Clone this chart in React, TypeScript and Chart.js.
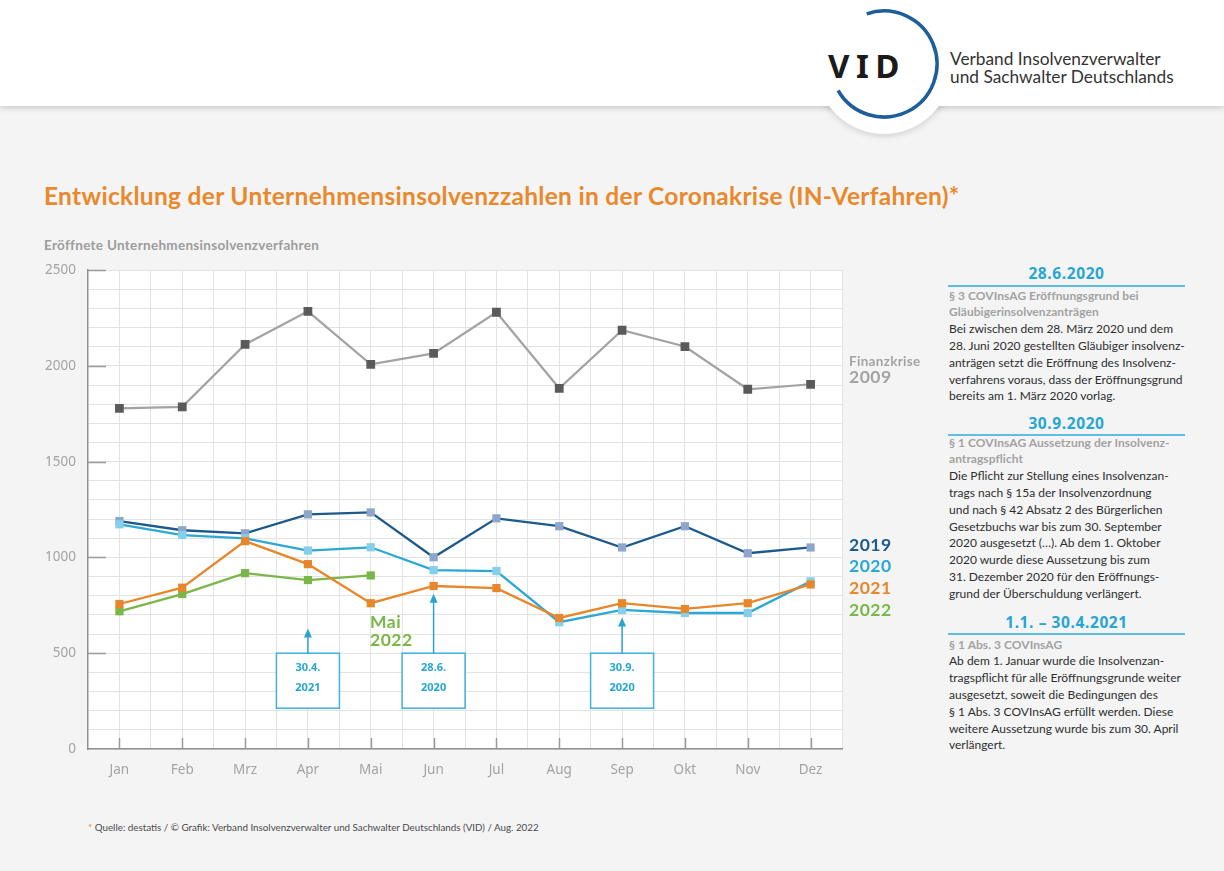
import React, { useEffect, useRef } from "react";
import { Chart, registerables } from "chart.js";
Chart.register(...registerables);

const months = ["Jan", "Feb", "Mrz", "Apr", "Mai", "Jun", "Jul", "Aug", "Sep", "Okt", "Nov", "Dez"];
const values2009 = [1778, 1786, 2112, 2285, 2008, 2065, 2280, 1883, 2186, 2101, 1878, 1904];
const values2019 = [1190, 1142, 1126, 1225, 1235, 1001, 1204, 1163, 1052, 1163, 1022, 1052];
const values2020 = [1173, 1117, 1100, 1036, 1053, 934, 929, 662, 726, 710, 710, 875];
const values2021 = [757, 842, 1085, 965, 761, 851, 840, 684, 761, 731, 761, 859];
const values2022 = [719, 809, 918, 882, 906];
const yMajorTicks = [0, 500, 1000, 1500, 2000, 2500];
const annotations = [
  { month: "Apr", lines: ["30.4.", "2021"], tip: 629 },
  { month: "Jun", lines: ["28.6.", "2020"], tip: 811 },
  { month: "Sep", lines: ["30.9.", "2020"], tip: 686 },
];
const boxTopValue = 500;
const boxBottomValue = 213;

const SANS = "'Noto Sans', sans-serif";
const LATO = "Lato, 'Noto Sans', sans-serif";
const CYAN = "#27a6d3";

const bgPlugin = {
  id: "plotBg",
  beforeDraw(chart: any) {
    const { ctx, chartArea } = chart;
    ctx.save();
    ctx.fillStyle = "#ffffff";
    ctx.fillRect(chartArea.left, chartArea.top, chartArea.right - chartArea.left, chartArea.bottom - chartArea.top);
    ctx.restore();
  },
};

const decoPlugin = {
  id: "deco",
  beforeDatasetsDraw(chart: any) {
    const { ctx, chartArea } = chart;
    const x = chart.scales.x;
    const y = chart.scales.y;
    ctx.save();
    ctx.strokeStyle = "#9a9a9a";
    ctx.lineWidth = 1.5;
    ctx.beginPath();
    yMajorTicks.forEach((v) => {
      if (v === 0) return;
      const py = Math.round(y.getPixelForValue(v)) + 0.5;
      ctx.moveTo(chartArea.left, py);
      ctx.lineTo(chartArea.left + 18, py);
    });
    months.forEach((_, i) => {
      const px = Math.round(x.getPixelForValue(i)) + 0.5;
      ctx.moveTo(px, chartArea.bottom);
      ctx.lineTo(px, chartArea.bottom - 11);
    });
    ctx.stroke();
    ctx.restore();
  },
  afterDatasetsDraw(chart: any) {
    const { ctx } = chart;
    const x = chart.scales.x;
    const y = chart.scales.y;
    ctx.save();
    annotations.forEach((a) => {
      const cx = x.getPixelForValue(months.indexOf(a.month));
      const top = y.getPixelForValue(boxTopValue);
      const bottom = y.getPixelForValue(boxBottomValue);
      const w = 63;
      ctx.fillStyle = "#ffffff";
      ctx.fillRect(cx - w / 2, top, w, bottom - top);
      ctx.strokeStyle = "#3cb2dc";
      ctx.lineWidth = 1.5;
      ctx.strokeRect(cx - w / 2, top, w, bottom - top);
      const tipY = y.getPixelForValue(a.tip);
      ctx.strokeStyle = "#2aa3d0";
      ctx.lineWidth = 1.5;
      ctx.beginPath();
      ctx.moveTo(cx, top);
      ctx.lineTo(cx, tipY + 6);
      ctx.stroke();
      ctx.fillStyle = "#2aa3d0";
      ctx.beginPath();
      ctx.moveTo(cx, tipY);
      ctx.lineTo(cx - 4, tipY + 9);
      ctx.lineTo(cx + 4, tipY + 9);
      ctx.closePath();
      ctx.fill();
      ctx.fillStyle = CYAN;
      ctx.font = "bold 11px " + SANS;
      ctx.textAlign = "center";
      ctx.textBaseline = "middle";
      ctx.fillText(a.lines[0], cx, top + 15);
      ctx.fillText(a.lines[1], cx, top + 35);
    });
    ctx.restore();
  },
};

function T(props: { x: number; y: number; size: number; lh?: number; weight?: number; color: string; font?: string; ls?: number; children: any; w?: number; align?: any }) {
  const lh = props.lh ?? props.size * 1.3;
  return (
    <div
      style={{
        position: "absolute",
        left: props.x,
        top: props.y - lh / 2,
        width: props.w,
        textAlign: props.align ?? "left",
        fontSize: props.size,
        lineHeight: lh + "px",
        fontWeight: props.weight ?? 400,
        color: props.color,
        fontFamily: props.font ?? LATO,
        letterSpacing: props.ls ?? 0,
        whiteSpace: "nowrap",
      }}
    >
      {props.children}
    </div>
  );
}

function Panel(props: { headY: number; lineY: number; head: string; subTop: number; sub: string[]; body: string[] }) {
  const LH = 16.8;
  return (
    <>
      <T x={948} w={237} align="center" y={props.headY} size={15.5} weight={700} color={CYAN} font={SANS} ls={0.6}>
        {props.head}
      </T>
      <div style={{ position: "absolute", left: 948, top: props.lineY - 1, width: 237, height: 2, background: "#5dbde2" }} />
      <div style={{ position: "absolute", left: 949, top: props.subTop, fontFamily: LATO, fontSize: 12, lineHeight: LH + "px", whiteSpace: "nowrap" }}>
        {props.sub.map((s, i) => (
          <div key={"s" + i} style={{ color: "#a2a2a2", fontWeight: 700, letterSpacing: 0.05 }}>{s}</div>
        ))}
        {props.body.map((s, i) => (
          <div key={"b" + i} style={{ color: "#2e2e2e" }}>{s}</div>
        ))}
      </div>
    </>
  );
}

export default function App() {
  const ref = useRef<HTMLCanvasElement>(null);
  useEffect(() => {
    const common = { pointStyle: "rect" as const, pointBorderWidth: 0, pointHoverRadius: 6, tension: 0, fill: false };
    const chart = new Chart(ref.current!, {
      type: "line",
      data: {
        labels: months,
        datasets: [
          { ...common, label: "2009", data: values2009, borderColor: "#a3a3a3", backgroundColor: "#5a5a5a", pointBackgroundColor: "#5a5a5a", pointRadius: 6.2, borderWidth: 2.2, order: 5 },
          { ...common, label: "2019", data: values2019, borderColor: "#1d5a8c", backgroundColor: "#8ea6c9", pointBackgroundColor: "#8ea6c9", pointRadius: 5.8, borderWidth: 2.3, order: 4 },
          { ...common, label: "2020", data: values2020, borderColor: "#2ba8d6", backgroundColor: "#86cfea", pointBackgroundColor: "#86cfea", pointRadius: 5.8, borderWidth: 2.3, order: 3 },
          { ...common, label: "2022", data: values2022, borderColor: "#7ab648", backgroundColor: "#7ab648", pointBackgroundColor: "#7ab648", pointRadius: 5.8, borderWidth: 2.3, order: 2 },
          { ...common, label: "2021", data: values2021, borderColor: "#e8862a", backgroundColor: "#e8862a", pointBackgroundColor: "#e8862a", pointRadius: 5.8, borderWidth: 2.3, order: 1 },
        ],
      },
      options: {
        responsive: false,
        animation: false,
        events: [],
        layout: { padding: { top: 18, right: 18, left: 0, bottom: 0 } },
        plugins: { legend: { display: false }, tooltip: { enabled: false } },
        scales: {
          x: {
            type: "category",
            offset: true,
            grid: { offset: false, color: "#e3e3e3", drawTicks: false },
            border: { color: "#8f8f8f", width: 1.5 },
            ticks: { color: "#a3a3a3", font: { family: SANS, size: 13.5 }, padding: 13 },
            afterFit: (s: any) => { s.height = 51; },
          },
          x2: {
            type: "category",
            position: "bottom",
            offset: true,
            grid: { offset: true, color: "#e3e3e3", drawTicks: false },
            border: { display: false },
            ticks: { display: false },
            afterFit: (s: any) => { s.height = 0; },
          },
          y: {
            min: 0,
            max: 2500,
            ticks: {
              stepSize: 100,
              autoSkip: false,
              callback: (v: any) => (Number(v) % 500 === 0 ? String(v) : ""),
              color: "#a3a3a3",
              font: { family: SANS, size: 13.5 },
              padding: 12,
            },
            grid: { color: "#e3e3e3", drawTicks: false },
            border: { color: "#8f8f8f", width: 1.5 },
            afterFit: (s: any) => { s.width = 58; },
          },
        },
      } as any,
      plugins: [bgPlugin, decoPlugin],
    });
    return () => chart.destroy();
  }, []);

  return (
    <div style={{ position: "absolute", left: 0, top: 0, width: 1224, height: 871, background: "#f4f4f5", overflow: "hidden" }}>
      {/* header */}
      <div style={{ position: "absolute", left: 0, top: 0, width: 1224, height: 106, background: "#fff", boxShadow: "0 2px 6px rgba(0,0,0,0.18)" }} />
      <div style={{ position: "absolute", left: 884 - 68, top: 66 - 68, width: 136, height: 136, borderRadius: "50%", background: "#fff", boxShadow: "0 2px 6px rgba(0,0,0,0.15)" }} />
      <div style={{ position: "absolute", left: 0, top: 0, width: 1224, height: 106, background: "#fff" }} />
      <svg style={{ position: "absolute", left: 0, top: 0 }} width={1224} height={140}>
        <path d="M 866.7 13.9 A 53 53 0 1 1 838.1 90.5" fill="none" stroke="#1d5d99" strokeWidth={3.5} />
      </svg>
      <T x={828} y={66} size={33} weight={700} color="#1b1b1b" font={SANS} ls={6.5} lh={40}>VID</T>
      <T x={950} y={58} size={17.3} color="#333" lh={19}>Verband Insolvenzverwalter</T>
      <T x={950} y={76} size={17.3} color="#333" lh={19}>und Sachwalter Deutschlands</T>

      {/* titles */}
      <T x={44} y={196} size={24.5} weight={700} color="#e8892c" lh={30} ls={0.3}>
        Entwicklung der Unternehmensinsolvenzzahlen in der Coronakrise (IN-Verfahren)*
      </T>
      <T x={44} y={245} size={13.5} weight={700} color="#9c9c9c" lh={16} ls={0.3}>Eröffnete Unternehmensinsolvenzverfahren</T>

      {/* chart */}
      <div style={{ position: "absolute", left: 30, top: 250, width: 830, height: 550 }}>
        <canvas ref={ref} width={830} height={550} style={{ width: 830, height: 550, display: "block" }} />
      </div>

      {/* series labels */}
      <T x={849} y={361} size={13.5} weight={700} color="#a3a3a3" lh={16} ls={0.3}>Finanzkrise</T>
      <T x={849} y={377} size={17.5} weight={700} color="#a3a3a3" lh={20} ls={0.5}>2009</T>
      <T x={849} y={545} size={17.5} weight={700} color="#1d5a8c" lh={20} ls={0.5}>2019</T>
      <T x={849} y={566} size={17.5} weight={700} color="#28a8d4" lh={20} ls={0.5}>2020</T>
      <T x={849} y={588} size={17.5} weight={700} color="#e8862a" lh={20} ls={0.5}>2021</T>
      <T x={849} y={610} size={17.5} weight={700} color="#7ab648" lh={20} ls={0.5}>2022</T>
      <T x={370} y={622} size={17.5} weight={700} color="#7ab648" lh={20} ls={0.5}>Mai</T>
      <T x={370} y={640} size={17.5} weight={700} color="#7ab648" lh={20} ls={0.5}>2022</T>

      {/* right panel */}
      <Panel
        headY={273}
        lineY={286}
        head="28.6.2020"
        subTop={287.6}
        sub={["§ 3 COVInsAG Eröffnungsgrund bei", "Gläubigerinsolvenzanträgen"]}
        body={[
          "Bei zwischen dem 28. März 2020 und dem",
          "28. Juni 2020 gestellten Gläubiger insolvenz-",
          "anträgen setzt die Eröffnung des Insolvenz-",
          "verfahrens voraus, dass der Eröffnungsgrund",
          "bereits am 1. März 2020 vorlag.",
        ]}
      />
      <Panel
        headY={423}
        lineY={435}
        head="30.9.2020"
        subTop={434.6}
        sub={["§ 1 COVInsAG Aussetzung der Insolvenz-", "antragspflicht"]}
        body={[
          "Die Pflicht zur Stellung eines Insolvenzan-",
          "trags nach § 15a der Insolvenzordnung",
          "und nach § 42 Absatz 2 des Bürgerlichen",
          "Gesetzbuchs war bis zum 30. September",
          "2020 ausgesetzt (…). Ab dem 1. Oktober",
          "2020 wurde diese Aussetzung bis zum",
          "31. Dezember 2020 für den Eröffnungs-",
          "grund der Überschuldung verlängert.",
        ]}
      />
      <Panel
        headY={622}
        lineY={634}
        head="1.1. – 30.4.2021"
        subTop={636.6}
        sub={["§ 1 Abs. 3 COVInsAG"]}
        body={[
          "Ab dem 1. Januar wurde die Insolvenzan-",
          "tragspflicht für alle Eröffnungsgrunde weiter",
          "ausgesetzt, soweit die Bedingungen des",
          "§ 1 Abs. 3 COVInsAG erfüllt werden. Diese",
          "weitere Aussetzung wurde bis zum 30. April",
          "verlängert.",
        ]}
      />

      {/* footnote */}
      <T x={88} y={827} size={9.8} color="#4a4a4a" lh={12}>
        <span style={{ color: "#e8892c" }}>*</span> Quelle: destatis / © Grafik: Verband Insolvenzverwalter und Sachwalter Deutschlands (VID) / Aug. 2022
      </T>
    </div>
  );
}
